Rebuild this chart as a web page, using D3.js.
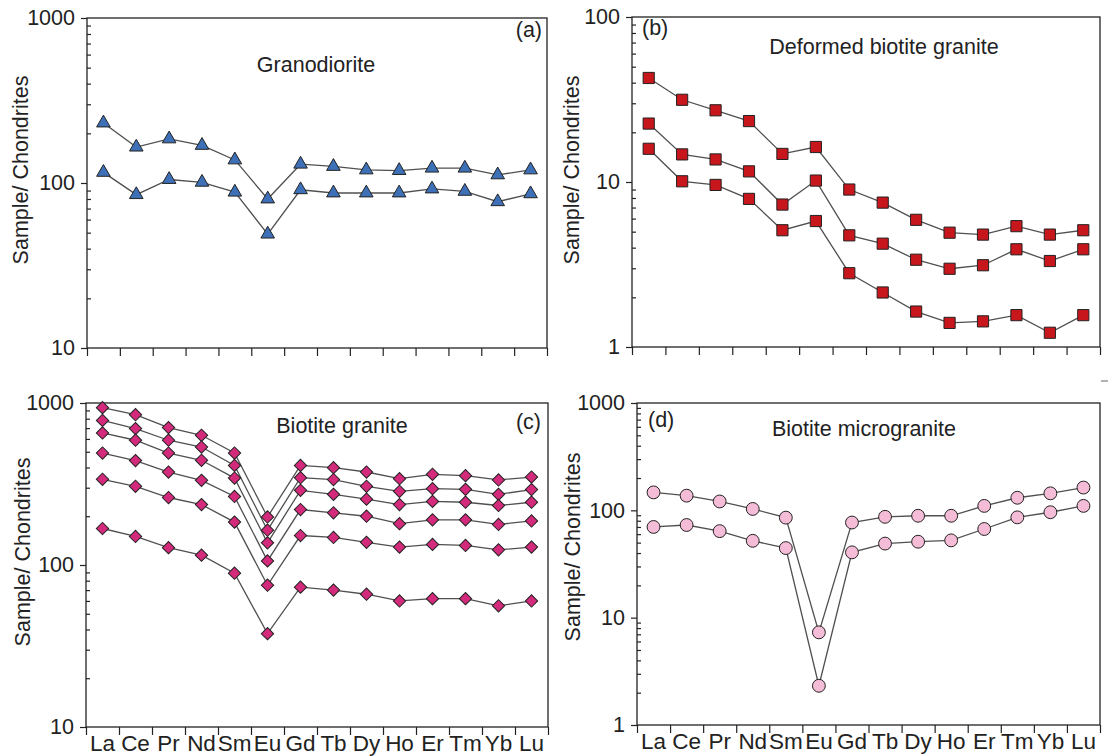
<!DOCTYPE html>
<html>
<head>
<meta charset="utf-8">
<script src="https://cdn.jsdelivr.net/npm/d3@7"></script>
<style>
body { margin: 0; background: #fff; }
svg { display: block; font-family: "Liberation Sans", Arial, sans-serif; }
</style>
</head>
<body>
<svg id="chart" width="1108" height="756"></svg>
<script>
// REE elements on the x axis
const ree = ["La", "Ce", "Pr", "Nd", "Sm", "Eu", "Gd", "Tb", "Dy", "Ho", "Er", "Tm", "Yb", "Lu"];

// chondrite-normalised values
const granodiorite = [
    [231, 165, 185, 169, 138, 80, 130, 126, 120, 119, 123, 123, 112, 120],
    [116, 85, 105, 101, 88, 49, 91, 87, 87, 87, 92, 89, 77, 86]
];

const deformedBiotiteGranite = [
    [42.7, 31.5, 27.2, 23.4, 14.8, 16.3, 9.0, 7.5, 5.9, 4.93, 4.8, 5.4, 4.8, 5.1],
    [22.6, 14.7, 13.7, 11.6, 7.3, 10.2, 4.75, 4.23, 3.38, 2.98, 3.13, 3.91, 3.32, 3.91],
    [15.9, 10.1, 9.6, 7.9, 5.1, 5.8, 2.8, 2.14, 1.64, 1.40, 1.43, 1.56, 1.22, 1.56]
];

const biotiteGranite = [
    [936, 847, 705, 632, 491, 198, 412, 399, 375, 341, 363, 356, 335, 349],
    [781, 695, 589, 535, 412, 164, 346, 337, 306, 285, 296, 293, 273, 292],
    [653, 589, 491, 443, 344, 137, 289, 273, 255, 236, 247, 244, 233, 244],
    [491, 441, 375, 333, 265, 106, 220, 210, 200, 180, 190, 190, 178, 187],
    [338, 306, 261, 236, 184, 75, 152, 148, 138, 129, 134, 132, 124, 129],
    [168, 150, 128, 115, 89, 37.7, 73, 70, 66, 60, 62, 62, 56, 60]
];

const biotiteMicrogranite = [
    [147, 137, 121, 103, 85.5, 7.3, 77, 87, 89, 89, 110, 131, 144, 163],
    [70, 73, 64, 52, 44.5, 2.32, 40.6, 49, 51, 52.5, 67, 86, 96, 110]
];

const panels = [
    { data: granodiorite, domain: [10, 1000], left: 87, right: 547, top: 18, bottom: 348,
      symbol: d3.symbolTriangle, size: 80, rotate: 0, fill: "#3d70b6",
      title: "Granodiorite", titleX: 316, titleY: 72,
      tag: "(a)", tagX: 542, tagY: 37, tagAnchor: "end",
      labelX: 28, labelY: 170, showCats: false },
    { data: deformedBiotiteGranite, domain: [1, 100], left: 632, right: 1100, top: 17, bottom: 347,
      symbol: d3.symbolSquare, size: 125, rotate: 0, fill: "#c8161d",
      title: "Deformed biotite granite", titleX: 884, titleY: 54,
      tag: "(b)", tagX: 642, tagY: 35, tagAnchor: "start",
      labelX: 579, labelY: 170, showCats: false },
    { data: biotiteGranite, domain: [10, 1000], left: 86, right: 548, top: 403, bottom: 727,
      symbol: d3.symbolSquare, size: 76, rotate: 45, fill: "#d42a7c",
      title: "Biotite granite", titleX: 342, titleY: 433,
      tag: "(c)", tagX: 541, tagY: 429, tagAnchor: "end",
      labelX: 30, labelY: 552, showCats: true },
    { data: biotiteMicrogranite, domain: [1, 1000], left: 637, right: 1100, top: 403, bottom: 725,
      symbol: d3.symbolCircle, size: 130, rotate: 0, fill: "#f4bcd6",
      title: "Biotite microgranite", titleX: 864, titleY: 436,
      tag: "(d)", tagX: 648, tagY: 427, tagAnchor: "start",
      labelX: 580, labelY: 547, showCats: true }
];

const svg = d3.select("#chart");

panels.forEach(p => {
    const g = svg.append("g");

    const x = d3.scaleBand().domain(ree).range([p.left, p.right]).padding(0);
    const xEdge = d3.scaleLinear().domain([0, ree.length]).range([p.left, p.right]);
    const y = d3.scaleLog().domain(p.domain).range([p.bottom, p.top]);
    const cx = i => x(ree[i]) + x.bandwidth() / 2;

    const decades = [];
    for (let v = p.domain[0]; v <= p.domain[1]; v *= 10) decades.push(v);
    const minors = [];
    decades.slice(0, -1).forEach(d => { for (let k = 2; k <= 9; k++) minors.push(d * k); });

    // major ticks outside, with labels
    const yAxis = g.append("g")
        .attr("transform", `translate(${p.left},0)`)
        .call(d3.axisLeft(y).tickValues(decades).tickFormat(d3.format("d")).tickSize(6).tickPadding(6));
    // minor ticks inside
    const yMinor = g.append("g")
        .attr("transform", `translate(${p.left},0)`)
        .call(d3.axisRight(y).tickValues(minors).tickFormat("").tickSize(4));

    // boundary ticks along the bottom
    const xTicks = g.append("g")
        .attr("transform", `translate(0,${p.bottom})`)
        .call(d3.axisBottom(xEdge).tickValues(d3.range(ree.length + 1)).tickFormat("").tickSize(8));

    [yAxis, yMinor, xTicks].forEach(a => {
        a.select(".domain").remove();
        a.selectAll("line").attr("stroke", "#222").attr("stroke-width", 1.2);
    });
    yAxis.selectAll("text")
        .attr("font-size", 21.5)
        .attr("fill", "#222")
        .attr("font-family", "Liberation Sans, Arial, sans-serif");

    if (p.showCats) {
        const cats = g.append("g")
            .attr("transform", `translate(0,${p.bottom})`)
            .call(d3.axisBottom(x).tickSize(0).tickPadding(8));
        cats.select(".domain").remove();
        cats.selectAll("text")
            .attr("font-size", 22.5)
            .attr("fill", "#222")
            .attr("font-family", "Liberation Sans, Arial, sans-serif");
    }

    g.append("rect")
        .attr("x", p.left)
        .attr("y", p.top)
        .attr("width", p.right - p.left)
        .attr("height", p.bottom - p.top)
        .attr("fill", "none")
        .attr("stroke", "#222")
        .attr("stroke-width", 1.3);

    const line = d3.line()
        .x((d, i) => cx(i))
        .y(d => y(d));

    g.selectAll(".series")
        .data(p.data)
        .enter().append("path")
        .attr("class", "series")
        .attr("fill", "none")
        .attr("stroke", "#505050")
        .attr("stroke-width", 1.3)
        .attr("d", line);

    const sym = d3.symbol().type(p.symbol).size(p.size);
    p.data.forEach(series => {
        g.selectAll(null)
            .data(series)
            .enter().append("path")
            .attr("d", sym)
            .attr("transform", (d, i) => `translate(${cx(i)},${y(d)}) rotate(${p.rotate})`)
            .attr("fill", p.fill)
            .attr("stroke", "#222")
            .attr("stroke-width", 1);
    });

    g.append("text")
        .attr("x", p.titleX)
        .attr("y", p.titleY)
        .attr("text-anchor", "middle")
        .attr("font-size", 21.5)
        .attr("fill", "#222")
        .text(p.title);

    g.append("text")
        .attr("x", p.tagX)
        .attr("y", p.tagY)
        .attr("text-anchor", p.tagAnchor)
        .attr("font-size", 21.5)
        .attr("fill", "#222")
        .text(p.tag);

    g.append("text")
        .attr("transform", `translate(${p.labelX},${p.labelY}) rotate(-90)`)
        .attr("text-anchor", "middle")
        .attr("font-size", 21.5)
        .attr("fill", "#222")
        .text("Sample/ Chondrites");
});

// small stray mark at the right edge of the original figure
svg.append("line")
    .attr("x1", 1101).attr("x2", 1108)
    .attr("y1", 381).attr("y2", 381)
    .attr("stroke", "#999")
    .attr("stroke-width", 1.5);
</script>
</body>
</html>
